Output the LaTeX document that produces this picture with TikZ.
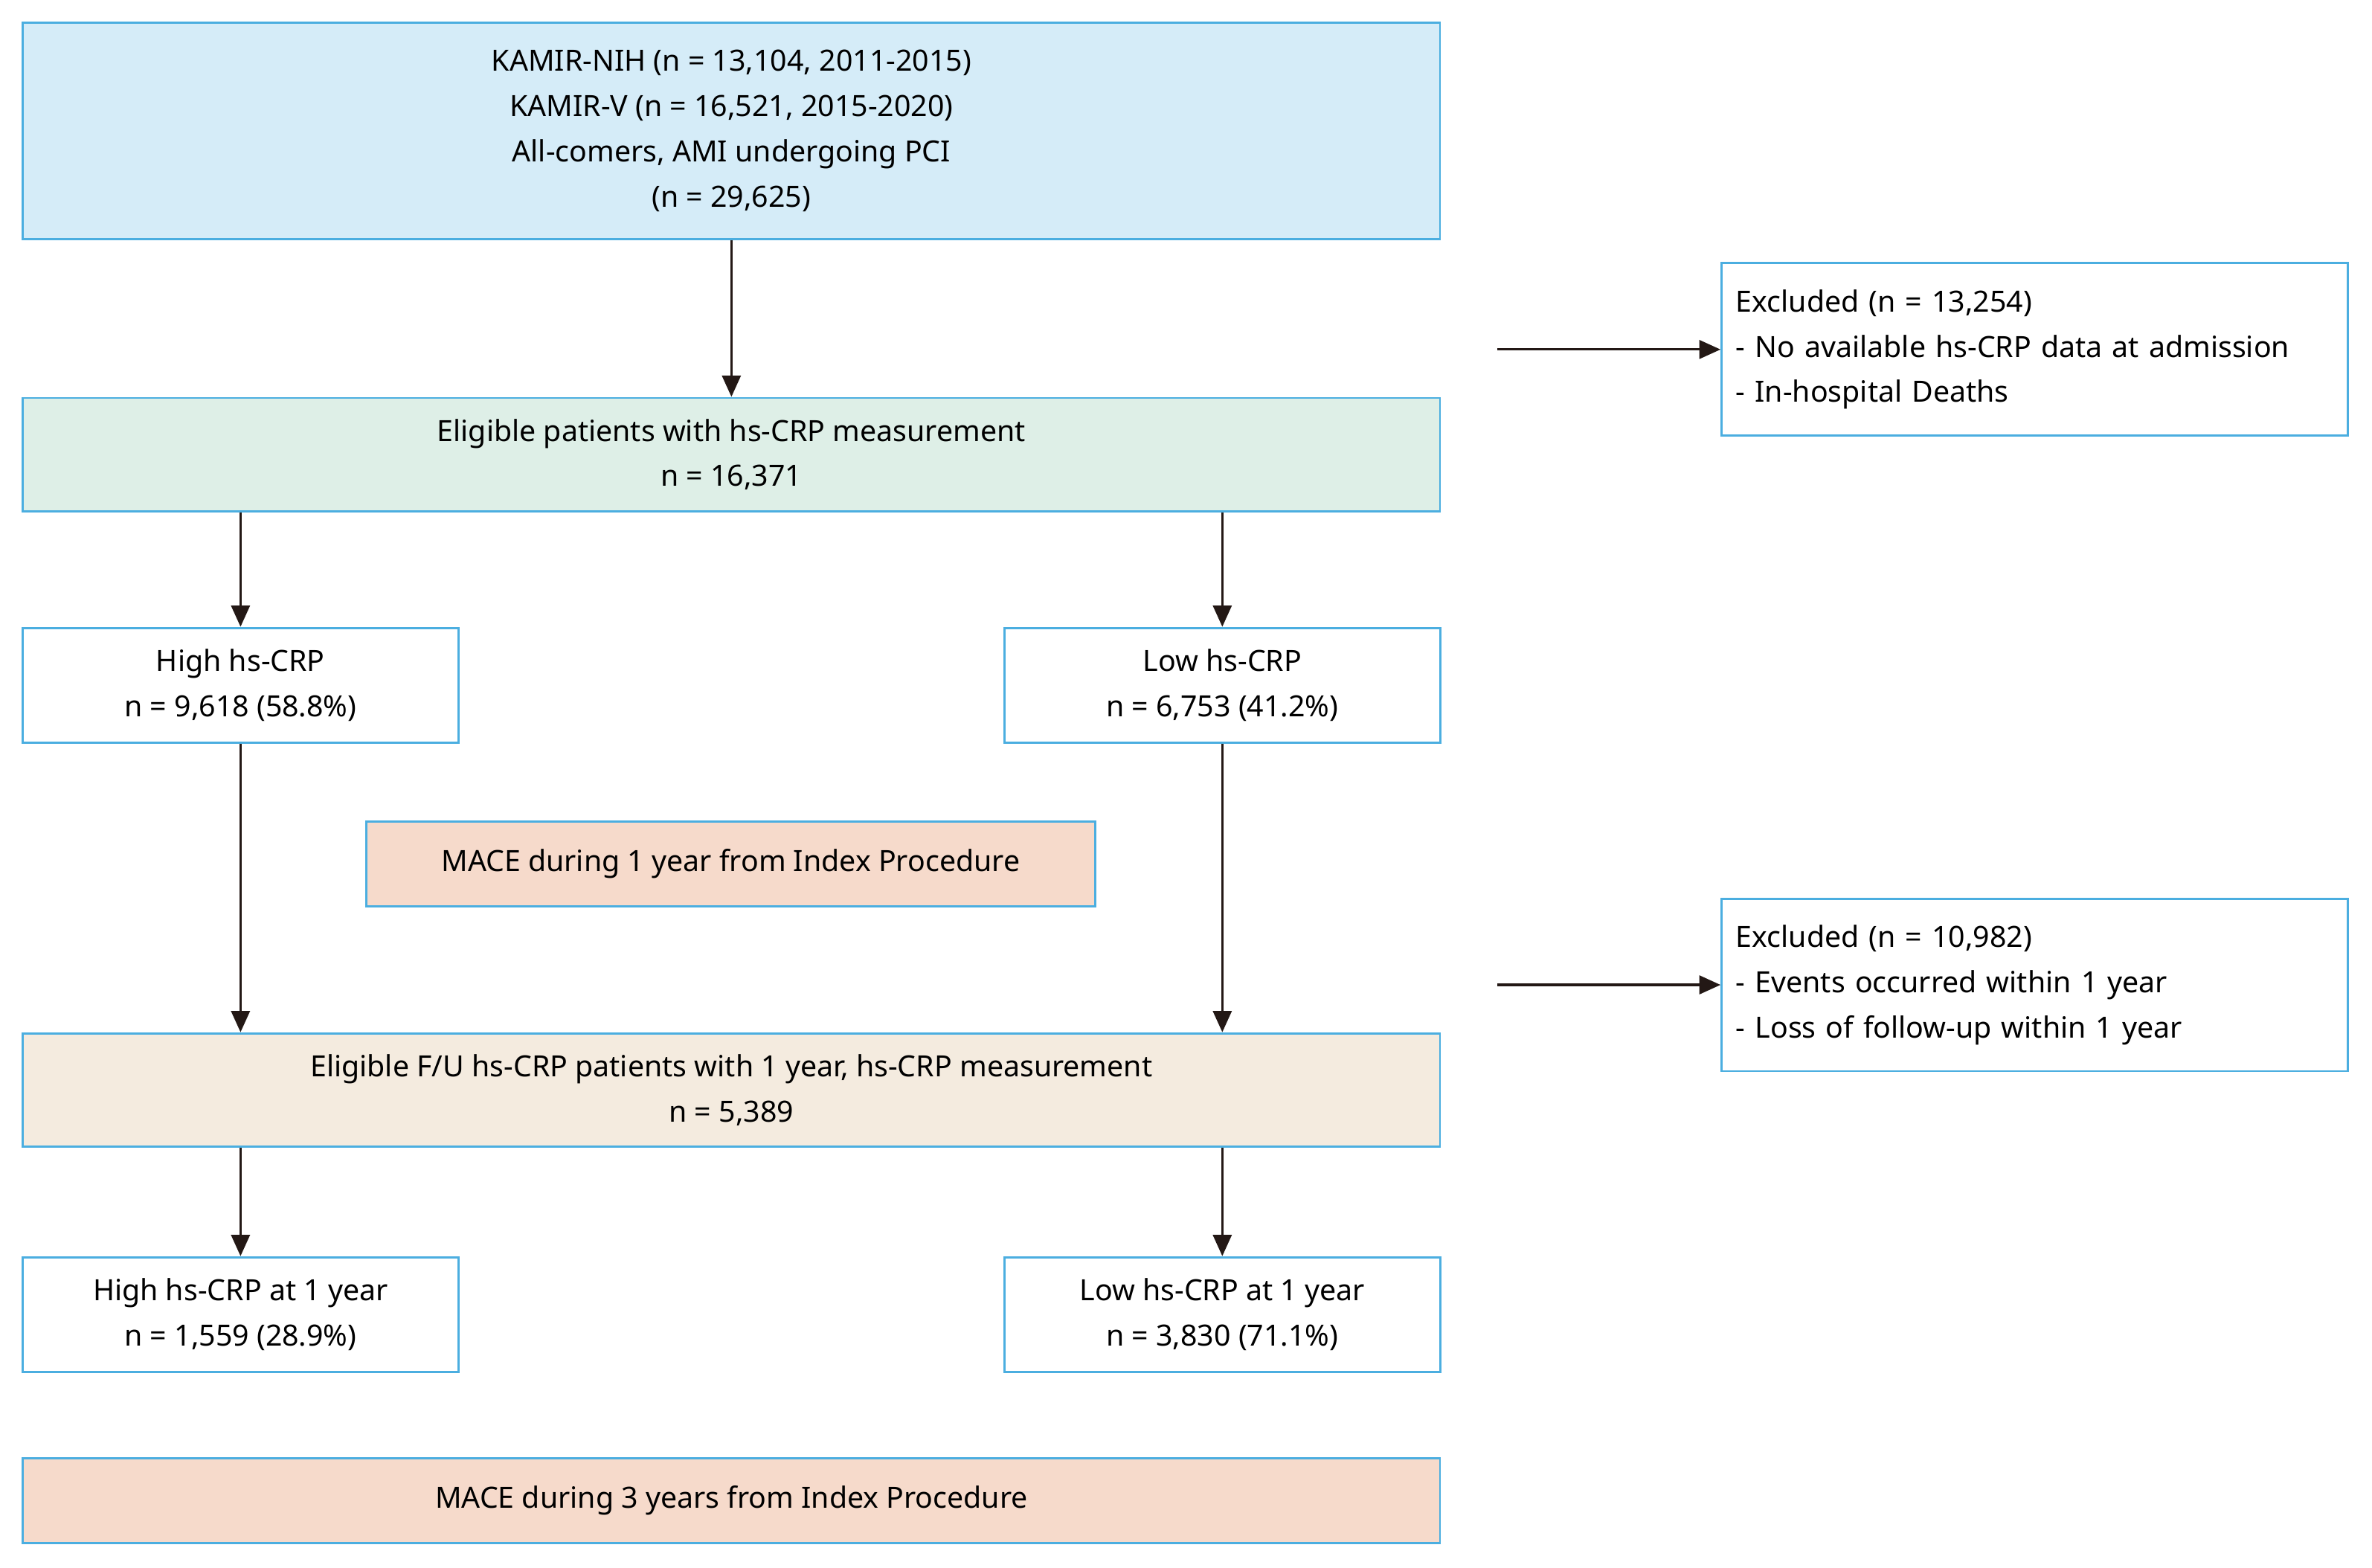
\documentclass[tikz,border=0pt]{standalone}
\usepackage{fontspec}
\setmainfont{Noto Sans}
\usetikzlibrary{arrows.meta}
\definecolor{boxline}{HTML}{4BAEE0}
\definecolor{cblue}{HTML}{D5ECF8}
\definecolor{cgreen}{HTML}{DEEFE7}
\definecolor{csalmon}{HTML}{F6DACB}
\definecolor{cbeige}{HTML}{F4EBDF}
\definecolor{arr}{HTML}{231815}
\tikzset{
  box/.style={draw=boxline,line width=0.8pt,align=center,inner sep=0pt},
  wide/.style={box,minimum width=18.74cm,minimum height=1.5cm},
  half/.style={box,fill=white,minimum width=5.76cm,minimum height=1.52cm},
  excl/.style={box,fill=white,align=left,minimum width=8.28cm,minimum height=2.28cm,text width=7.9cm},
  flow/.style={-{Triangle[length=8pt,width=7pt]},line width=0.9pt,draw=arr},
}
\begin{document}
\begin{tikzpicture}[x=0.02cm,y=-0.02cm,font=\fontsize{11}{17}\selectfont]
      \useasboundingbox (0,0) rectangle (1568,1036);
      \draw
        (483.5,86.5) node[wide,fill=cblue,minimum height=2.86cm] (top){KAMIR-NIH (n = 13,104, 2011-2015)\\KAMIR-V (n = 16,521, 2015-2020)\\All-comers, AMI undergoing PCI\\(n = 29,625)}
        (483.5,300.5) node[wide,fill=cgreen] (elig){Eligible patients with hs-CRP measurement\\n = 16,371}
        (159,453) node[half] (high){High hs-CRP\\n = 9,618 (58.8\%)}
        (808,453) node[half] (low){Low hs-CRP\\n = 6,753 (41.2\%)}
        (483,571) node[box,fill=csalmon,minimum width=9.64cm,minimum height=1.12cm] (mace1){MACE during 1 year from Index Procedure}
        (483.5,720.5) node[wide,fill=cbeige] (fu){Eligible F/U hs-CRP patients with 1 year, hs-CRP measurement\\n = 5,389}
        (159,869) node[half] (highone){High hs-CRP at 1 year\\n = 1,559 (28.9\%)}
        (808,869) node[half] (lowone){Low hs-CRP at 1 year\\n = 3,830 (71.1\%)}
        (483.5,992) node[wide,fill=csalmon,minimum height=1.12cm] (mace3){MACE during 3 years from Index Procedure}
        (1345,231) node[excl] (exclA){Excluded (n = 13,254)\\- No available hs-CRP data at admission\\- In-hospital Deaths}
        (1345,651) node[excl] (exclB){Excluded (n = 10,982)\\- Events occurred within 1 year\\- Loss of follow-up within 1 year};
      \coordinate (fromA) at (990,231);
      \coordinate (fromB) at (990,651);
      \begin{scope}[flow]
        \draw (top) -- (elig);
        \draw (elig.south -| high) -- (high);
        \draw (elig.south -| low) -- (low);
        \draw (high) -- (high |- fu.north);
        \draw (low) -- (low |- fu.north);
        \draw (fu.south -| highone) -- (highone);
        \draw (fu.south -| lowone) -- (lowone);
        \draw (fromA) -- (exclA);
        \draw (fromB) -- (exclB);
      \end{scope}
    \end{tikzpicture}
\end{document}
